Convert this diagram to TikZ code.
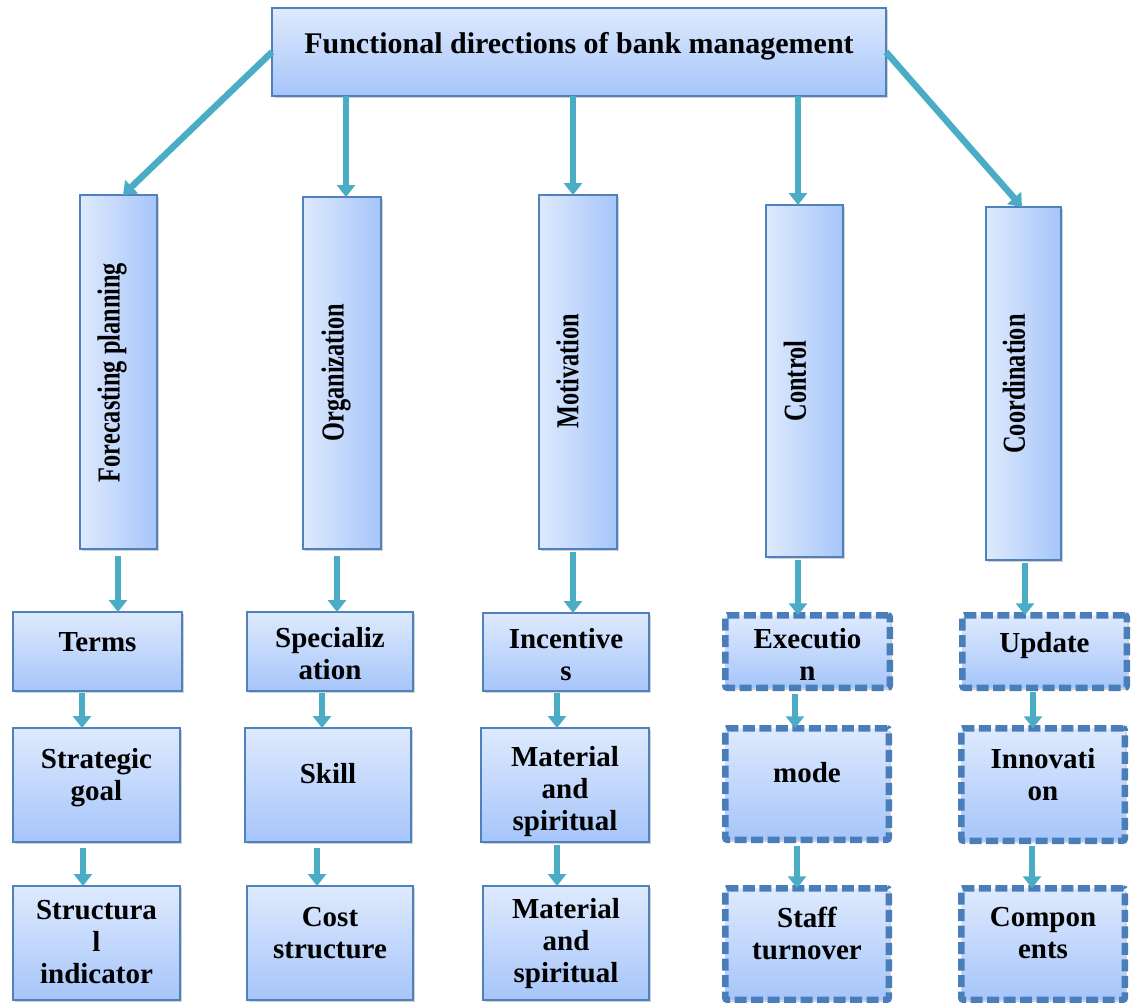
\documentclass[tikz,border=0pt]{standalone}
\usepackage{fontspec}
\setmainfont{Liberation Serif}
\usetikzlibrary{arrows.meta,shadows}
\definecolor{boxtop}{RGB}{222,234,253}
\definecolor{boxbot}{RGB}{166,197,250}
\definecolor{boxline}{RGB}{79,129,189}
\definecolor{dashline}{RGB}{74,126,187}
\definecolor{arrcol}{RGB}{75,172,198}
\tikzset{
  shadowed/.style={drop shadow={shadow xshift=2pt,shadow yshift=-2pt,opacity=0.25,fill=black!70}},
  hbox/.style={rectangle, draw=boxline, line width=1.3pt, top color=boxtop, bottom color=boxbot, inner sep=0pt, outer sep=0pt, shadowed},
  vbox/.style={rectangle, draw=boxline, line width=1.3pt, left color=boxtop, right color=boxbot, inner sep=0pt, outer sep=0pt, shadowed},
  dbox/.style={rectangle, draw=dashline, line width=6.5pt, dash pattern=on 12pt off 4.5pt, rounded corners=2pt, top color=boxtop, bottom color=boxbot, inner sep=0pt, outer sep=0pt, shadowed},
  txt/.style={anchor=north, align=center, inner sep=0pt, font=\fontsize{29}{32}\selectfont\bfseries},
  vtxt/.style={rotate=90, inner sep=0pt, font=\fontsize{32}{36}\selectfont\bfseries},
  arr/.style={draw=arrcol, line width=6.5pt, -{Triangle[width=18pt,length=12pt]}}
}
\begin{document}
\begin{tikzpicture}[x=1pt,y=-1pt]
\useasboundingbox (0,0) rectangle (1132,1002);
\clip (0,0) rectangle (1132,1002);
% top box
\node[hbox, minimum width=614pt, minimum height=88pt] (top) at (579,52) {};
\node[txt, font=\fontsize{30}{34}\selectfont\bfseries] (topt) at (579,32) {Functional directions of bank management};
% columns
\node[vbox, minimum width=77pt, minimum height=354pt] (fp) at (118.5,372) {};
\node[vtxt] (fpt) at (112,372.5) {\scalebox{0.76}[1]{Forecasting planning}};
\node[vbox, minimum width=78pt, minimum height=352pt] (org) at (342,373) {};
\node[vtxt] (orgt) at (336,372.5) {\scalebox{0.76}[1]{Organization}};
\node[vbox, minimum width=78pt, minimum height=354pt] (mot) at (578,372) {};
\node[vtxt] (mott) at (567.5,371.5) {\scalebox{0.76}[1]{Motivation}};
\node[vbox, minimum width=77pt, minimum height=352pt] (ctl) at (804.5,381) {};
\node[vtxt] (ctlt) at (795,381) {\scalebox{0.76}[1]{Control}};
\node[vbox, minimum width=75pt, minimum height=353pt] (coo) at (1023.5,383.5) {};
\node[vtxt] (coot) at (1014,384) {\scalebox{0.76}[1]{Coordination}};
% row 1
\node[hbox, minimum width=169pt, minimum height=79pt] (terms) at (97.5,651.5) {};
\node[txt] (termst) at (97.5,632) {Terms};
\node[hbox, minimum width=166pt, minimum height=79pt] (spec) at (330,651.5) {};
\node[txt] (spect) at (330,627) {Specializ\\ation};
\node[hbox, minimum width=166pt, minimum height=78pt] (inc) at (566,652) {};
\node[txt] (inct) at (566,628) {Incentive\\s};
\node[dbox, minimum width=164.5pt, minimum height=72.5pt] (exe) at (807.5,651.5) {};
\node[txt] (exet) at (807.5,628) {Executio\\n};
\node[dbox, minimum width=164.5pt, minimum height=72.5pt] (upd) at (1044.5,651.5) {};
\node[txt] (updt) at (1044.5,632) {Update};
% row 2
\node[hbox, minimum width=167pt, minimum height=114pt] (strat) at (96.5,785) {};
\node[txt] (stratt) at (96.5,748) {Strategic\\goal};
\node[hbox, minimum width=166pt, minimum height=114pt] (skill) at (328,785) {};
\node[txt] (skillt) at (328,763) {Skill};
\node[hbox, minimum width=168pt, minimum height=114pt] (mat1) at (565,785) {};
\node[txt] (mat1t) at (565,746) {Material\\and\\spiritual};
\node[dbox, minimum width=163.5pt, minimum height=111.5pt] (mode) at (807,784) {};
\node[txt] (modet) at (807,762) {mode};
\node[dbox, minimum width=163.5pt, minimum height=112.5pt] (innov) at (1043,784.5) {};
\node[txt] (innovt) at (1043,748) {Innovati\\on};
% row 3
\node[hbox, minimum width=167pt, minimum height=114pt] (struct) at (96.5,943) {};
\node[txt] (structt) at (96.5,900) {Structura\\l\\indicator};
\node[hbox, minimum width=166pt, minimum height=114pt] (cost) at (330,943) {};
\node[txt] (costt) at (330,907) {Cost\\structure};
\node[hbox, minimum width=166pt, minimum height=114pt] (mat2) at (566,943) {};
\node[txt] (mat2t) at (566,898) {Material\\and\\spiritual};
\node[dbox, minimum width=163.5pt, minimum height=111.5pt] (staff) at (807,944) {};
\node[txt] (stafft) at (807,907) {Staff\\turnover};
\node[dbox, minimum width=163.5pt, minimum height=111.5pt] (comp) at (1043,944) {};
\node[txt] (compt) at (1043,907) {Compon\\ents};
% arrows from top
\draw[arr] (top.west) -- ([xshift=4.5pt]fp.north);
\draw[arr] ([xshift=-233pt]top.south) -- ([xshift=4pt]org.north);
\draw[arr] ([xshift=-6pt]top.south) -- ([xshift=-5pt]mot.north);
\draw[arr] ([xshift=219pt]top.south) -- ([xshift=-6.5pt]ctl.north);
\draw[arr] (top.east) -- ([xshift=-1.5pt]coo.north);
% columns to row 1
\draw[arr] ([xshift=-0.5pt,yshift=-7pt]fp.south) -- ([xshift=20.5pt]terms.north);
\draw[arr] ([xshift=-5pt,yshift=-7pt]org.south) -- ([xshift=7pt]spec.north);
\draw[arr] ([xshift=-5pt,yshift=-3pt]mot.south) -- ([xshift=7pt]inc.north);
\draw[arr] ([xshift=-6.5pt,yshift=-3pt]ctl.south) -- ([xshift=-9.5pt]exe.north);
\draw[arr] ([xshift=1.5pt,yshift=-3pt]coo.south) -- ([xshift=-19.5pt]upd.north);
% row 1 to row 2
\draw[arr] ([xshift=-15.5pt,yshift=-2pt]terms.south) -- ([xshift=-14.5pt]strat.north);
\draw[arr] ([xshift=-8pt,yshift=-2pt]spec.south) -- ([xshift=-6pt]skill.north);
\draw[arr] ([xshift=-9pt,yshift=-2pt]inc.south) -- ([xshift=-8pt]mat1.north);
\draw[arr] ([xshift=-12.5pt,yshift=-6pt]exe.south) -- ([xshift=-12pt]mode.north);
\draw[arr] ([xshift=-11.5pt,yshift=-4.5pt]upd.south) -- ([xshift=-10pt]innov.north);
% row 2 to row 3
\draw[arr] ([xshift=-13.5pt,yshift=-6pt]strat.south) -- ([xshift=-13.5pt]struct.north);
\draw[arr] ([xshift=-11pt,yshift=-6pt]skill.south) -- ([xshift=-13pt]cost.north);
\draw[arr] ([xshift=-8pt,yshift=-3pt]mat1.south) -- ([xshift=-9pt]mat2.north);
\draw[arr] ([xshift=-10pt,yshift=-6pt]mode.south) -- ([xshift=-10pt]staff.north);
\draw[arr] ([xshift=-11pt,yshift=-5pt]innov.south) -- ([xshift=-11pt]comp.north);
\end{tikzpicture}
\end{document}
